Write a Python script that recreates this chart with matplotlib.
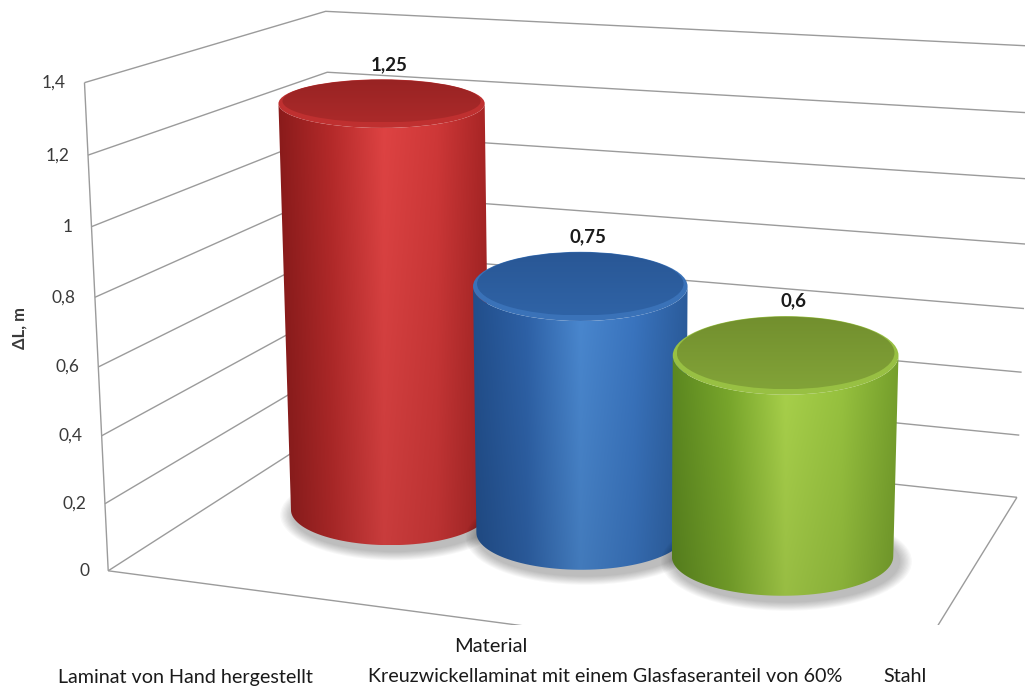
import numpy as np
import matplotlib
matplotlib.use('Agg')
import matplotlib.pyplot as plt
from matplotlib.patches import Ellipse, Polygon, Rectangle
from matplotlib.colors import LinearSegmentedColormap

plt.rcParams['font.family'] = ['Lato', 'DejaVu Sans']

# ........................ Data ........................
categories = ['Laminat von Hand hergestellt',
              'Kreuzwickellaminat mit einem Glasfaseranteil von 60%',
              'Stahl']
values = [1.25, 0.75, 0.6]
value_labels = ['1,25', '0,75', '0,6']
y_ticks = [0, 0.2, 0.4, 0.6, 0.8, 1.0, 1.2, 1.4]
y_tick_labels = ['0', '0,2', '0,4', '0,6', '0,8', '1', '1,2', '1,4']
x_title = 'Material'
y_title = '\u0394L, m'

# body gradient stops (left edge -> right edge), top rim and top face colours
body_stops = [
    ['#8a1b1b', '#b52a2a', '#df4343', '#cf3838', '#a52424'],
    ['#224f8c', '#2e62a8', '#4a88d0', '#3a75c0', '#2b5c9c'],
    ['#5c8820', '#7aa82c', '#a9d24b', '#98c33f', '#76a02c'],
]
rim_colors = ['#bf3030', '#3a72b8', '#98c043']
face_colors = [('#982323', '#ab2a2a'), ('#295795', '#2f63a6'), ('#728f2e', '#82a338')]

# ........................ 3D box layout ........................
X_LEFT, X_RIGHT = -0.37, 3.37
Y_TOP = 1.4
BAR_DEPTH = 0.5
BAR_RADIUS = 0.535
box_world = [(X_LEFT, 0, 0), (X_LEFT, Y_TOP, 0), (X_LEFT, Y_TOP, 1), (X_LEFT, 0, 1),
             (X_RIGHT, 0, 1), (X_RIGHT, Y_TOP, 1), (X_RIGHT, 0, 0)]
box_screen = [(108, 572), (85, 82), (325, 12), (337, 423),
              (1017, 498), (1034, 46), (906, 676)]


def fit_camera(world, screen):
    rows = []
    for (X, Y, Z), (u, v) in zip(world, screen):
        u, v = u / 1000.0, v / 1000.0
        rows.append([X, Y, Z, 1, 0, 0, 0, 0, -u * X, -u * Y, -u * Z, -u])
        rows.append([0, 0, 0, 0, X, Y, Z, 1, -v * X, -v * Y, -v * Z, -v])
    _, _, vt = np.linalg.svd(np.array(rows, dtype=float))
    return vt[-1].reshape(3, 4)


CAM = fit_camera(box_world, box_screen)


def proj(X, Y, Z):
    p = CAM @ np.array([X, Y, Z, 1.0])
    return np.array([p[0] / p[2], p[1] / p[2]]) * 1000.0


def gradient_fill(ax, patch, stops, vshade, z, vertical=False):
    cmap = LinearSegmentedColormap.from_list('g', stops)
    verts = patch.get_path().vertices
    verts = patch.get_patch_transform().transform(verts) if isinstance(patch, Ellipse) else verts
    x0, x1 = verts[:, 0].min(), verts[:, 0].max()
    y0, y1 = verts[:, 1].min(), verts[:, 1].max()
    if vertical:
        cols = cmap(np.linspace(0, 1, 128))[:, :3]
        img = np.repeat(cols[:, None, :], 4, axis=1)
    else:
        cols = cmap(np.linspace(0, 1, 256))[:, :3]
        shade = np.linspace(1.0, vshade, 96)[:, None, None]
        img = cols[None, :, :] * shade
    im = ax.imshow(img, extent=(x0, x1, y1, y0), origin='upper', aspect='auto',
                   interpolation='bilinear', zorder=z)
    patch.set_facecolor('none')
    patch.set_edgecolor('none')
    ax.add_patch(patch)
    im.set_clip_path(patch)


fig = plt.figure(figsize=(10.25, 6.86), dpi=100)
ax = fig.add_axes([0, 0, 1, 1])
ax.set_xlim(0, 1025)
ax.set_ylim(686, 0)
ax.axis('off')

plot_clip = Rectangle((0, 0), 1025, 625, transform=ax.transData)
grid_kw = dict(color='#9b9b9b', lw=1.0, zorder=1, solid_capstyle='butt')

# gridlines on left and back wall
for v in y_ticks:
    pts = np.array([proj(X_LEFT, v, 0), proj(X_LEFT, v, 1), proj(X_RIGHT, v, 1)])
    ln, = ax.plot(pts[:, 0], pts[:, 1], **grid_kw)
    ln.set_clip_path(plot_clip)

# floor front/right edge and left wall front edge
for a, b in [((X_LEFT, 0, 0), (X_RIGHT, 0, 0)), ((X_RIGHT, 0, 0), (X_RIGHT, 0, 1)),
             ((X_LEFT, 0, 0), (X_LEFT, Y_TOP, 0))]:
    pts = np.array([proj(*a), proj(*b)])
    ln, = ax.plot(pts[:, 0], pts[:, 1], **grid_kw)
    ln.set_clip_path(plot_clip)

# y tick labels
for v, lab in zip(y_ticks, y_tick_labels):
    px, py = proj(X_LEFT, v, 0)
    ax.text(px - 19, py, lab, ha='right', va='center', fontsize=12.5, color='#3a3a3a')


def ellipse_params(X, v, k):
    c = proj(X, v, BAR_DEPTH)
    rx = abs(proj(X + BAR_RADIUS, v, BAR_DEPTH)[0] - proj(X - BAR_RADIUS, v, BAR_DEPTH)[0]) / 2
    ry = k * abs(proj(X, v, BAR_DEPTH + 0.5)[1] - proj(X, v, BAR_DEPTH - 0.5)[1])
    return c, rx, ry


# cylinders
for i, (v, lab) in enumerate(zip(values, value_labels)):
    X = i + 0.5
    z = 10 + i * 5
    (tcx, tcy), trx, tr_y = ellipse_params(X, v, 0.29)
    (bcx, bcy), brx, bry = ellipse_params(X, 0, 0.23)

    # soft shadow on the floor
    for k in range(10):
        ax.add_patch(Ellipse((bcx + 4, bcy + 5), 2 * (brx + 3 + k * 1.3), 2 * (bry + 2 + k * 0.9),
                             facecolor='black', edgecolor='none', alpha=0.026, zorder=z))

    # body
    t = np.linspace(np.pi, 0, 60)
    bottom = np.column_stack([bcx + brx * np.cos(t), bcy + bry * np.sin(t)])
    top = np.column_stack([tcx + trx * np.cos(t[::-1]), tcy + tr_y * np.sin(t[::-1])])
    body = Polygon(np.vstack([bottom, top]), closed=True, transform=ax.transData)
    gradient_fill(ax, body, body_stops[i], 0.9, z + 1)

    # top: bevel rim then inner face
    ax.add_patch(Ellipse((tcx, tcy), 2 * trx, 2 * tr_y, facecolor=rim_colors[i],
                         edgecolor='none', zorder=z + 2))
    face = Ellipse((tcx, tcy - 2.5), 2 * (trx - 4), 2 * (tr_y - 3), transform=ax.transData)
    gradient_fill(ax, face, list(face_colors[i]), 1.0, z + 3, vertical=True)

    ax.text(tcx + 8, tcy - tr_y - 15, lab, ha='center', va='center', fontsize=13.5,
            fontweight='bold', color='#1a1a1a', zorder=30)

# axis titles and category labels
ax.text(20, 328, y_title, rotation=90, ha='center', va='center', fontsize=12,
        fontweight='bold', color='#3a3a3a')
ax.text(491, 647, x_title, ha='center', va='center', fontsize=14.5, color='#1a1a1a')
cat_label_x = [185, 605, 905]
for x, lab in zip(cat_label_x, categories):
    ax.text(x, 677, lab, ha='center', va='center', fontsize=14.2, color='#1a1a1a')

fig.savefig('out.png', dpi=100, facecolor='white')
